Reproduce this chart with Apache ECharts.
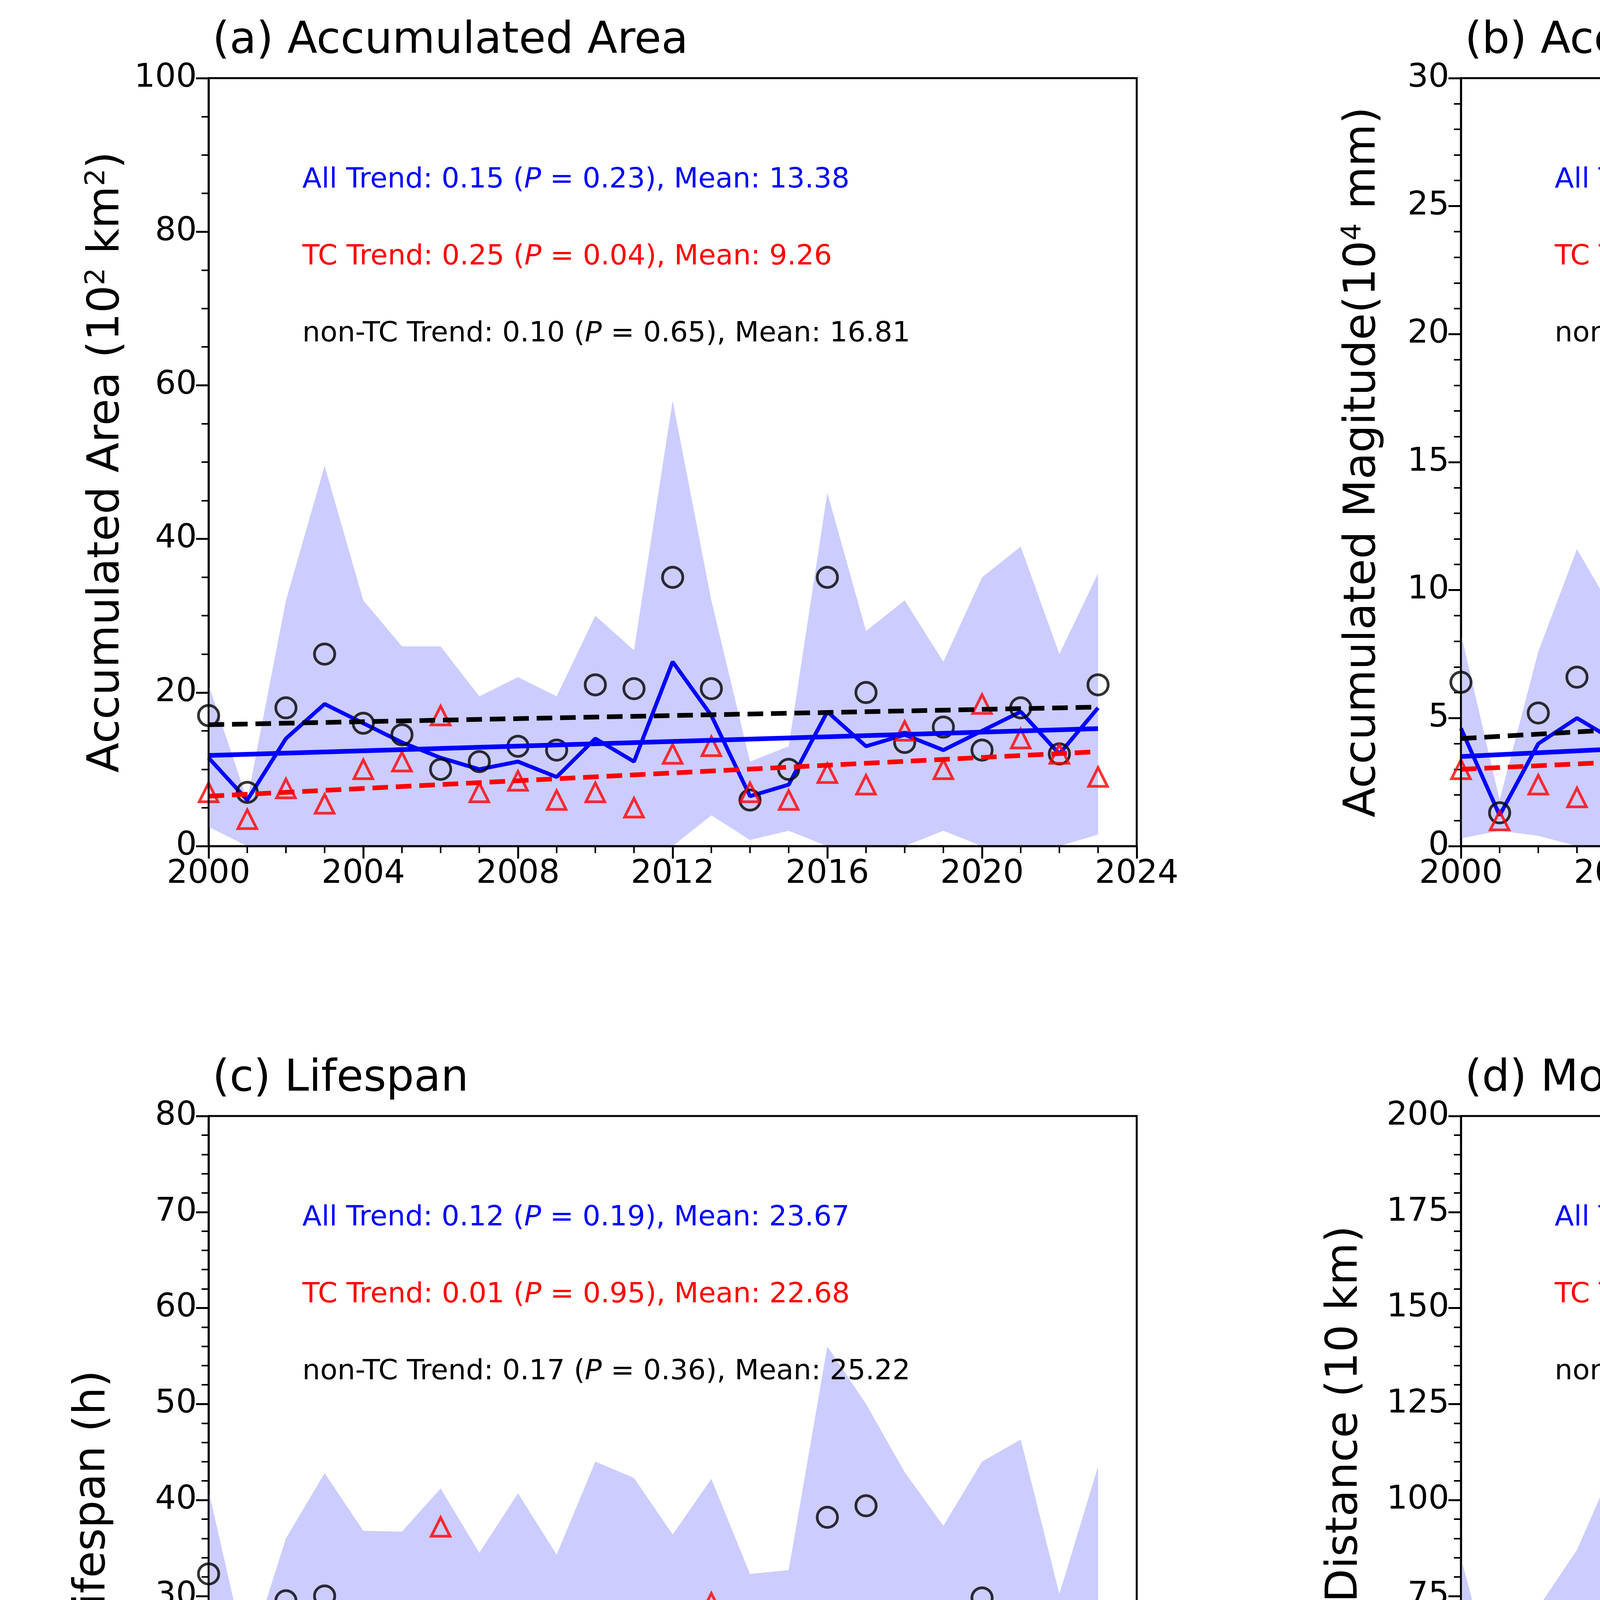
<!DOCTYPE html>
<html>
<head>
<meta charset="utf-8">
<script src="https://cdn.jsdelivr.net/npm/echarts@6/dist/echarts.min.js"></script>
<style>html,body{margin:0;padding:0;background:#fff}#chart{width:6292px;height:5220px}</style>
</head>
<body>
<div id="chart"></div>
<script>
var years = [];
for (var y = 2000; y <= 2023; y++) years.push(y);

// (a) Accumulated Area
var areaAll = [11.5, 6, 14, 18.5, 16, 13.5, 11.5, 10, 11, 9, 14, 11, 24, 17, 6.5, 8, 17.5, 13, 14.5, 12.5, 15, 17.5, 12, 18];
var areaNonTC = [17, 7, 18, 25, 16, 14.5, 10, 11, 13, 12.5, 21, 20.5, 35, 20.5, 6, 10, 35, 20, 13.5, 15.5, 12.5, 18, 12, 21];
var areaTC = [7, 3.5, 7.5, 5.5, 10, 11, 17, 7, 8.5, 6, 7, 5, 12, 13, 7, 6, 9.5, 8, 15, 10, 18.5, 14, 12, 9];
var areaUp = [21, 6, 32, 49.5, 32, 26, 26, 19.5, 22, 19.5, 30, 25.5, 58, 32, 11, 13, 46, 28, 32, 24, 35, 39, 25, 35.5];
var areaLo = [2.5, 0, 0, 0, 0, 0, 0, 0, 0, 0, 0, 0, 0, 4, 0.8, 2, 0, 0, 0, 2, 0, 0, 0, 1.5];
var areaTrend = {all: [11.8, 15.3], tc: [6.5, 12.3], non: [15.8, 18.1]};

// (b) Accumulated Magnitude
var magAll = [4.6, 1.2, 4.0, 5.0, 4.1, 4.1, 4.1, 2.6, 3.9, 3.1, 5.0, 3.6, 6.7, 4.9, 2.3, 3.0, 8.2, 4.8, 5.0, 4.7, 5.8, 5.3, 2.8, 5.8];
var magNonTC = [6.4, 1.3, 5.2, 6.6, 4.0, 4.3, 2.0, 2.6, 3.8, 3.8, 6.8, 5.8, 8.5, 4.8, 1.7, 3.1, 17.5, 7.4, 3.8, 4.8, 5.7, 5.0, 2.8, 6.9];
var magTC = [3.0, 1.0, 2.4, 1.9, 5.4, 4.3, 9.1, 2.4, 4.2, 2.0, 3.3, 2.0, 4.8, 5.4, 3.1, 2.9, 3.6, 2.9, 5.6, 4.6, 5.9, 6.8, 2.8, 1.7];
var magUp = [8.3, 1.8, 7.6, 11.6, 9.0, 8.8, 10.9, 5.3, 8.7, 7.0, 11.1, 8.1, 15.8, 6.0, 4.6, 5.8, 25.2, 10.5, 11.8, 9.0, 14.1, 11.8, 6.3, 12.5];
var magLo = [0.3, 0.6, 0.4, 0, 0, 0, 0, 0, 0, 0, 0, 0, 0, 1.0, 0, 0, 0, 0, 0, 0, 0, 0.2, 0, 0.1];
var magTrend = {all: [3.5, 5.2], tc: [3.0, 4.6], non: [4.2, 6.2]};

// (c) Lifespan
var lifeAll = [27.5, 16.2, 24.3, 24.3, 21.3, 22.5, 21.4, 21.4, 23.5, 21, 27, 24.5, 22.2, 26.5, 20, 21.5, 28.2, 29, 24.8, 23.3, 25.2, 27, 20, 24.3];
var lifeNonTC = [32.3, 16.5, 29.5, 30, 21.2, 21.7, 16.7, 21.2, 20.5, 24, 27, 27.3, 21.8, 25, 18, 22.7, 38.2, 39.4, 24.5, 24.8, 29.8, 27.6, 20.2, 27];
var lifeTC = [21.8, 14.5, 17.3, 13.2, 26.2, 25.2, 37.2, 23.2, 28, 16.7, 27, 23.8, 23, 29.3, 23.3, 20.4, 23.5, 21.7, 25.3, 22, 19.7, 24.2, 20, 15];
var lifeUp = [41, 23.3, 36, 42.8, 36.8, 36.7, 41.2, 34.5, 40.7, 34.3, 44, 42.3, 36.4, 42.2, 32.3, 32.7, 56, 50, 42.9, 37.3, 44, 46.3, 30.2, 43.5];
var lifeLo = [10.3, 7.8, 12.8, 6.2, 6.7, 9.3, 2, 8.5, 6.1, 7.5, 10.6, 7.8, 8, 11.5, 8.4, 11, 1, 8.2, 7.6, 9.5, 7, 8, 12.5, 5];
var lifeTrend = {all: [22.6, 25.1], tc: [22.7, 22.8], non: [23.3, 27.1]};

// (d) Move Distance
var distAll = [50, 30, 47, 49, 56, 48, 41.5, 43, 48, 44, 57, 47, 54, 70, 36, 41, 56, 53, 53, 50, 41, 56, 52, 57];
var distNonTC = [67, 37, 52, 57, 59, 52, 37, 43, 53, 53, 80, 71, 63, 80, 31, 51, 88, 69, 50, 62, 42, 61, 53, 62];
var distTC = [32, 25, 39, 34, 40, 43, 57, 41, 40, 31, 32, 31, 45, 53, 44, 29, 40, 42, 55, 41, 42, 32, 45, 42];
var distUp = [85, 47, 72, 87, 110, 83, 75, 66, 86, 76, 106, 88, 95, 114, 64, 61, 104, 97, 98, 96, 68, 104, 78, 89];
var distLo = [10, 15, 23, 12, 3, 20, 8, 18, 11, 11, 9, 6, 15, 24, 10, 18, 8, 9, 9, 10, 26, 7, 27, 26];
var distTrend = {all: [45, 54], tc: [37, 43], non: [53.5, 61]};

var panels = [
  {title: '(a) Accumulated Area', yname: 'Accumulated Area (10{sup|2} km{sup|2})', max: 100, interval: 20, minor: 4,
   all: areaAll, non: areaNonTC, tc: areaTC, up: areaUp, lo: areaLo, trend: areaTrend,
   text: ['All Trend: 0.15 (', '0.23), Mean: 13.38', 'TC Trend: 0.25 (', '0.04), Mean: 9.26', 'non-TC Trend: 0.10 (', '0.65), Mean: 16.81']},
  {title: '(b) Accumulated Magitude', yname: 'Accumulated Magitude(10{sup|4} mm)', max: 30, interval: 5, minor: 5,
   all: magAll, non: magNonTC, tc: magTC, up: magUp, lo: magLo, trend: magTrend,
   text: ['All Trend: 0.07 (', '0.10), Mean: 4.36', 'TC Trend: 0.07 (', '0.27), Mean: 3.83', 'non-TC Trend: 0.09 (', '0.36), Mean: 5.20']},
  {title: '(c) Lifespan', yname: 'Lifespan (h)', max: 80, interval: 10, minor: 5,
   all: lifeAll, non: lifeNonTC, tc: lifeTC, up: lifeUp, lo: lifeLo, trend: lifeTrend,
   text: ['All Trend: 0.12 (', '0.19), Mean: 23.67', 'TC Trend: 0.01 (', '0.95), Mean: 22.68', 'non-TC Trend: 0.17 (', '0.36), Mean: 25.22']},
  {title: '(d) Move Distance', yname: 'Moving Distance (10 km)', max: 200, interval: 25, minor: 5,
   all: distAll, non: distNonTC, tc: distTC, up: distUp, lo: distLo, trend: distTrend,
   text: ['All Trend: 0.38 (', '0.12), Mean: 49.43', 'TC Trend: 0.28 (', '0.27), Mean: 39.82', 'non-TC Trend: 0.33 (', '0.45), Mean: 57.18']}
];

var lefts = [534, 3740, 534, 3740];
var tops = [200, 200, 2857, 2857];
var W = 2376, H = 1966;
var FONT = 'DejaVu Sans';

var grids = [], xAxes = [], yAxes = [], series = [], graphics = [];
function pairs(arr) { return arr.map(function (v, i) { return [years[i], v]; }); }

// band between lower and upper bounds, drawn as one polygon through the axes
function bandSeries(k, up, lo) {
  return {
    type: 'custom', xAxisIndex: k, yAxisIndex: k, silent: true, z: 1, clip: true,
    data: [[2000, 0]],
    renderItem: function (params, api) {
      var pts = [];
      for (var i = 0; i < years.length; i++) pts.push(api.coord([years[i], up[i]]));
      for (var j = years.length - 1; j >= 0; j--) pts.push(api.coord([years[j], lo[j]]));
      return {type: 'polygon', shape: {points: pts}, style: {fill: '#ccccff'}};
    }
  };
}

panels.forEach(function (p, k) {
  grids.push({left: lefts[k], top: tops[k], width: W, height: H, show: true, borderColor: '#000', borderWidth: 5, backgroundColor: 'transparent', z: 6});
  xAxes.push({
    type: 'value', gridIndex: k, min: 2000, max: 2024, interval: 4,
    name: k >= 2 ? 'Year' : '', nameLocation: 'middle', nameGap: 150,
    nameTextStyle: {fontSize: 112, color: '#000', fontFamily: FONT},
    axisLine: {lineStyle: {color: '#000', width: 5}},
    axisTick: {length: 32, lineStyle: {width: 5, color: '#000'}},
    minorTick: {show: true, splitNumber: 4, length: 18, lineStyle: {width: 4, color: '#000'}},
    axisLabel: {fontSize: 84, color: '#000', margin: 30, fontFamily: FONT, formatter: function (v) { return String(v); }},
    splitLine: {show: false}
  });
  yAxes.push({
    type: 'value', gridIndex: k, min: 0, max: p.max, interval: p.interval,
    name: p.yname, nameLocation: 'middle', nameGap: k === 1 ? 190 : (k === 0 ? 200 : 240),
    nameTextStyle: {fontSize: 112, color: '#000', fontFamily: FONT,
      rich: {sup: {fontSize: 70, verticalAlign: 'top', padding: [0, 0, 50, 0], color: '#000', fontFamily: FONT}}},
    axisLine: {lineStyle: {color: '#000', width: 5}},
    axisTick: {length: 32, lineStyle: {width: 5, color: '#000'}},
    minorTick: {show: true, splitNumber: p.minor, length: 18, lineStyle: {width: 4, color: '#000'}},
    axisLabel: {fontSize: 84, color: '#000', margin: 30, fontFamily: FONT},
    splitLine: {show: false}
  });
  series.push(bandSeries(k, p.up, p.lo));
  series.push({type: 'line', xAxisIndex: k, yAxisIndex: k, data: pairs(p.all), symbol: 'none', lineStyle: {color: '#0000ff', width: 10}, z: 3});
  series.push({type: 'scatter', xAxisIndex: k, yAxisIndex: k, data: pairs(p.non), symbol: 'circle', symbolSize: 52,
    itemStyle: {color: 'transparent', borderColor: '#000', borderWidth: 7}, z: 4});
  series.push({type: 'scatter', xAxisIndex: k, yAxisIndex: k, data: pairs(p.tc), symbol: 'triangle', symbolSize: 48,
    itemStyle: {color: 'transparent', borderColor: '#ff0000', borderWidth: 7}, z: 4});
  var tx = [2000, 2023];
  series.push({type: 'line', xAxisIndex: k, yAxisIndex: k, data: [[tx[0], p.trend.all[0]], [tx[1], p.trend.all[1]]], symbol: 'none', lineStyle: {color: '#0000ff', width: 12}, z: 5});
  series.push({type: 'line', xAxisIndex: k, yAxisIndex: k, data: [[tx[0], p.trend.tc[0]], [tx[1], p.trend.tc[1]]], symbol: 'none', lineStyle: {color: '#ff0000', width: 12, type: [40, 20]}, z: 5});
  series.push({type: 'line', xAxisIndex: k, yAxisIndex: k, data: [[tx[0], p.trend.non[0]], [tx[1], p.trend.non[1]]], symbol: 'none', lineStyle: {color: '#000', width: 12, type: [40, 20]}, z: 5});

  graphics.push({type: 'text', left: lefts[k] + 10, top: tops[k] - 150, style: {text: p.title, fontSize: 112, fill: '#000', fontFamily: FONT}});
  var cols = ['#0000ff', '#ff0000', '#000000'];
  for (var j = 0; j < 3; j++) {
    graphics.push({type: 'text', left: lefts[k] + 240, top: tops[k] + 225 + j * 197, z: 10,
      style: {rich: {n: {fontSize: 72, fill: cols[j], fontFamily: FONT}, i: {fontSize: 72, fill: cols[j], fontStyle: 'italic', fontFamily: FONT}},
        text: '{n|' + p.text[2 * j] + '}{i|P}{n| = ' + p.text[2 * j + 1] + '}'}});
  }
});

var chart = echarts.init(document.getElementById('chart'));
chart.setOption({
  backgroundColor: '#fff',
  animation: false,
  grid: grids, xAxis: xAxes, yAxis: yAxes, series: series, graphic: graphics
});
</script>
</body>
</html>
